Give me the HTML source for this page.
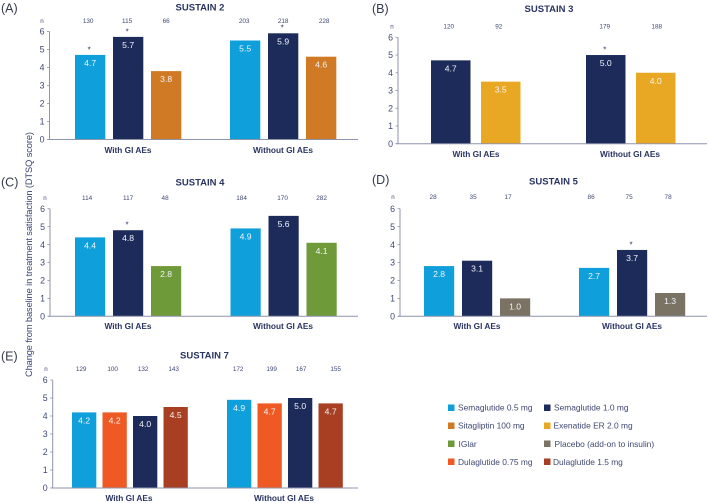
<!DOCTYPE html>
<html lang="en">
<head>
<meta charset="utf-8">
<title>Change in DTSQ score by GI AEs</title>
<style>
html,body{margin:0;padding:0;background:#fff;}
body{width:709px;height:503px;overflow:hidden;}
svg{display:block;filter:blur(0.3px);font-family:"Liberation Sans",sans-serif;}
</style>
</head>
<body>
<svg id="figure" xmlns="http://www.w3.org/2000/svg" width="709" height="503" viewBox="0 0 709 503">
  <rect width="709" height="503" fill="#ffffff"/>
  <text transform="translate(32,254.5) rotate(-90)" text-anchor="middle" font-size="9.3" fill="#3a4470" textLength="245" lengthAdjust="spacing">Change from baseline in treatment satisfaction (DTSQ score)</text>
  <g font-size="8.4" fill="#3f4873">
    <rect x="448" y="404.5" width="6.5" height="6.5" fill="#0f9fdb"/>
    <text x="458" y="410.7">Semaglutide 0.5 mg</text>
    <rect x="544" y="404.5" width="6.5" height="6.5" fill="#1c2b5a"/>
    <text x="554" y="410.7">Semaglutide 1.0 mg</text>
    <rect x="448" y="422.5" width="6.5" height="6.5" fill="#d07a25"/>
    <text x="458" y="428.7">Sitagliptin 100 mg</text>
    <rect x="544" y="422.5" width="6.5" height="6.5" fill="#e9a823"/>
    <text x="553.5" y="428.7">Exenatide ER 2.0 mg</text>
    <rect x="448" y="440.5" width="6.5" height="6.5" fill="#6f9a3a"/>
    <text x="458.5" y="447">IGlar</text>
    <rect x="544" y="440.5" width="6.5" height="6.5" fill="#7a7263"/>
    <text x="554.5" y="447">Placebo (add-on to insulin)</text>
    <rect x="448" y="458.5" width="6.5" height="6.5" fill="#ef5a24"/>
    <text x="458" y="465">Dulaglutide 0.75 mg</text>
    <rect x="544" y="458.5" width="6.5" height="6.5" fill="#a93f22"/>
    <text x="553" y="465">Dulaglutide 1.5 mg</text>
  </g>
</svg>
<script>
var tickLabels = [0, 1, 2, 3, 4, 5, 6];
var groupLabels = ['With GI AEs', 'Without GI AEs'];

var sustain2Drugs = ['sema05', 'sema10', 'sita'];
var sustain2Values = [[4.7, 5.7, 3.8], [5.5, 5.9, 4.6]];
var sustain2Counts = [[130, 115, 66], [203, 218, 228]];
var sustain2Stars = [[1, 1, 0], [0, 1, 0]];

var sustain3Drugs = ['sema10', 'exen'];
var sustain3Values = [[4.7, 3.5], [5.0, 4.0]];
var sustain3Counts = [[120, 92], [179, 188]];
var sustain3Stars = [[0, 0], [1, 0]];

var sustain4Drugs = ['sema05', 'sema10', 'iglar'];
var sustain4Values = [[4.4, 4.8, 2.8], [4.9, 5.6, 4.1]];
var sustain4Counts = [[114, 117, 48], [184, 170, 282]];
var sustain4Stars = [[0, 1, 0], [0, 0, 0]];

var sustain5Drugs = ['sema05', 'sema10', 'placebo'];
var sustain5Values = [[2.8, 3.1, 1.0], [2.7, 3.7, 1.3]];
var sustain5Counts = [[28, 35, 17], [86, 75, 78]];
var sustain5Stars = [[0, 0, 0], [0, 1, 0]];

var sustain7Drugs = ['sema05', 'dula075', 'sema10', 'dula15'];
var sustain7Values = [[4.2, 4.2, 4.0, 4.5], [4.9, 4.7, 5.0, 4.7]];
var sustain7Counts = [[129, 100, 132, 143], [172, 199, 167, 155]];
var sustain7Stars = [[0, 0, 0, 0], [0, 0, 0, 0]];

var drugColors = {
  sema05: '#0f9fdb', sema10: '#1c2b5a', sita: '#d07a25', exen: '#e9a823',
  iglar: '#6f9a3a', placebo: '#7a7263', dula075: '#ef5a24', dula15: '#a93f22'
};

var NS = 'http://www.w3.org/2000/svg';
var figure = document.getElementById('figure');

function make(parent, tag, attrs, text) {
  var el = document.createElementNS(NS, tag);
  for (var k in attrs) el.setAttribute(k, attrs[k]);
  if (text !== undefined) el.textContent = text;
  parent.appendChild(el);
  return el;
}

function drawPanel(p) {
  var g = make(figure, 'g', {});
  
  

  function yScale(v) { return p.y0 - v * (p.y0 - p.y6) / 6; }
  function xBar(group, i) { return p.starts[group] + i * p.step; }

  var letter = make(g, 'text', {x: p.letterX, y: p.letterY, 'font-size': 12.5, fill: '#333a4d'}, p.letter);
  
  

  var title = make(g, 'text', {x: p.titleX, y: p.titleY, 'font-size': 9.5, 'font-weight': 'bold', 'text-anchor': 'middle', fill: '#2a3563'}, p.title);
  
  

  var nHead = make(g, 'text', {x: p.nX, y: p.nY + 2.2, 'font-size': 6.2, 'text-anchor': 'middle', fill: '#3f4873'}, 'n');
  
  

  p.values.forEach(function (groupVals, gi) {
    groupVals.forEach(function (v, i) {
      var x = xBar(gi, i);
      var top = yScale(v);
      var bar = make(g, 'rect', {x: x, y: top, width: p.barW, height: p.y0 - top, fill: drugColors[p.drugs[i]]});
      
      

      var label = make(g, 'text', {x: x + p.barW / 2, y: top + 11, 'font-size': 8.6, 'text-anchor': 'middle', fill: '#f2f4f8'}, v.toFixed(1));
      
      

      var count = make(g, 'text', {x: x + p.barW / 2 + p.nShift[gi][i], y: p.nY + 2.2, 'font-size': 6.4, 'text-anchor': 'middle', fill: '#3f4873'}, p.counts[gi][i]);
      
      

      if (p.stars[gi][i]) {
        var star = make(g, 'text', {x: x + p.barW / 2 - 1, y: top - 2.6, 'font-size': 8, 'text-anchor': 'middle', fill: '#2a3563'}, '*');
        
        
      }
    });
    var gLabel = make(g, 'text', {x: p.groupX[gi], y: p.groupY, 'font-size': 8.3, 'font-weight': 'bold', 'text-anchor': 'middle', fill: '#2a3563'}, groupLabels[gi]);
    
    
  });

  var yAxis = make(g, 'line', {x1: p.axisX, x2: p.axisX, y1: p.y6, y2: p.y0, stroke: '#8f94ad', 'stroke-width': 1});
  
  

  var xAxis = make(g, 'line', {x1: p.axisX - 2, x2: p.axisEnd, y1: p.y0, y2: p.y0, stroke: '#8f94ad', 'stroke-width': 1});
  
  

  tickLabels.forEach(function (t) {
    var y = yScale(t);
    var tick = make(g, 'line', {x1: p.axisX - 2.5, x2: p.axisX, y1: y, y2: y, stroke: '#8f94ad', 'stroke-width': 0.8});
    
    

    var tl = make(g, 'text', {x: p.axisX - 5, y: y + 3.2, 'font-size': 8.8, 'text-anchor': 'end', fill: '#3f4873'}, t);
    
    
  });
}

drawPanel({key: 'sustain-2', letter: '(A)', letterX: 1, letterY: 12.5, title: 'SUSTAIN 2', titleX: 200, titleY: 10.5,
  drugs: sustain2Drugs, values: sustain2Values, counts: sustain2Counts, stars: sustain2Stars,
  axisX: 49.5, axisEnd: 358, y0: 139.5, y6: 31.5, starts: [75, 230], barW: 30.3, step: 38,
  nX: 42, nY: 21, nShift: [[-2, -1, 0], [-1, 0, 3]], groupX: [128, 283], groupY: 153});

drawPanel({key: 'sustain-3', letter: '(B)', letterX: 372, letterY: 13, title: 'SUSTAIN 3', titleX: 549, titleY: 12,
  drugs: sustain3Drugs, values: sustain3Values, counts: sustain3Counts, stars: sustain3Stars,
  axisX: 398, axisEnd: 707, y0: 143.7, y6: 37.3, starts: [431, 586], barW: 39.5, step: 50,
  nX: 392, nY: 26.5, nShift: [[-2, -2], [-1, 1]], groupX: [476, 630], groupY: 157});

drawPanel({key: 'sustain-4', letter: '(C)', letterX: 1, letterY: 186.5, title: 'SUSTAIN 4', titleX: 200, titleY: 185.5,
  drugs: sustain4Drugs, values: sustain4Values, counts: sustain4Counts, stars: sustain4Stars,
  axisX: 50, axisEnd: 358, y0: 316.3, y6: 208.7, starts: [75, 230.5], barW: 30.2, step: 38,
  nX: 45, nY: 198, nShift: [[-3, 0, -1], [-4, -1, 0]], groupX: [128, 283], groupY: 329});

drawPanel({key: 'sustain-5', letter: '(D)', letterX: 372, letterY: 184, title: 'SUSTAIN 5', titleX: 553.5, titleY: 184.5,
  drugs: sustain5Drugs, values: sustain5Values, counts: sustain5Counts, stars: sustain5Stars,
  axisX: 400, axisEnd: 707, y0: 316.3, y6: 208.7, starts: [424, 579], barW: 30.2, step: 38,
  nX: 393, nY: 197, nShift: [[-6, -4, -7], [-3, -3, -2]], groupX: [477, 632], groupY: 329});

drawPanel({key: 'sustain-7', letter: '(E)', letterX: 1, letterY: 360.5, title: 'SUSTAIN 7', titleX: 204.5, titleY: 358.5,
  drugs: sustain7Drugs, values: sustain7Values, counts: sustain7Counts, stars: sustain7Stars,
  axisX: 52.7, axisEnd: 358, y0: 488, y6: 380, starts: [72, 227], barW: 24.3, step: 30.5,
  nX: 46, nY: 369, nShift: [[-3, -2, -2, -2], [-1, 2, 1, 5]], groupX: [129, 284], groupY: 501});
</script>
</body>
</html>
